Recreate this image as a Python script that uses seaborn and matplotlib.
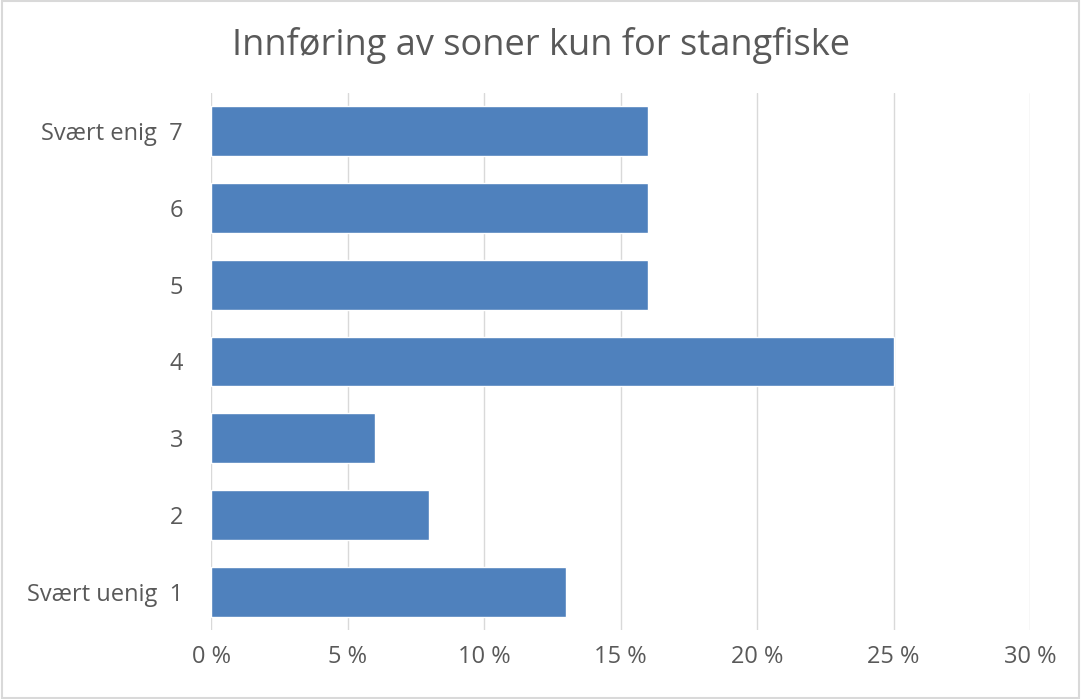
import matplotlib
matplotlib.use("Agg")
import matplotlib.pyplot as plt
import seaborn as sns
import pandas as pd
from matplotlib.ticker import FuncFormatter

categories = ["Svært enig  7", "6", "5", "4", "3", "2", "Svært uenig  1"]
values = [16, 16, 16, 25, 6, 8, 13]
xticks = [0, 5, 10, 15, 20, 25, 30]
title = "Innføring av soner kun for stangfiske"

sns.set_theme(style="white")
plt.rcParams['font.family'] = ['Open Sans', 'DejaVu Sans']

df = pd.DataFrame({"cat": categories, "val": values})

fig = plt.figure(figsize=(10.81, 6.99), dpi=100)
ax = fig.add_axes([211/1081, 1-630/699, (1030-211)/1081, (630-93)/699])

sns.barplot(data=df, y="cat", x="val", order=categories, color="#4f81bd",
            saturation=1, width=0.65, ax=ax, orient="h")

ax.set_xlim(0, 30)
ax.set_ylim(6.5, -0.5)
ax.set_xticks(xticks)
ax.xaxis.set_major_formatter(FuncFormatter(lambda v, p: f"{int(v)} %"))
ax.grid(axis="x", color="#d9d9d9", linewidth=1)
ax.set_axisbelow(True)
for s in ax.spines.values():
    s.set_visible(False)
ax.set_xlabel("")
ax.set_ylabel("")
ax.tick_params(axis="both", length=0, labelsize=17, labelcolor="#595959")
ax.tick_params(axis="x", pad=11)
ax.tick_params(axis="y", pad=20)

fig.text(0.5, 1-46/699, title, ha="center", va="center", fontsize=26, color="#595959")

border = plt.Rectangle((0.0015, 0.0015), 0.997, 0.997, transform=fig.transFigure,
                       fill=False, edgecolor="#d9d9d9", linewidth=1.5)
fig.add_artist(border)

fig.savefig("out.png", dpi=100, facecolor="white")
